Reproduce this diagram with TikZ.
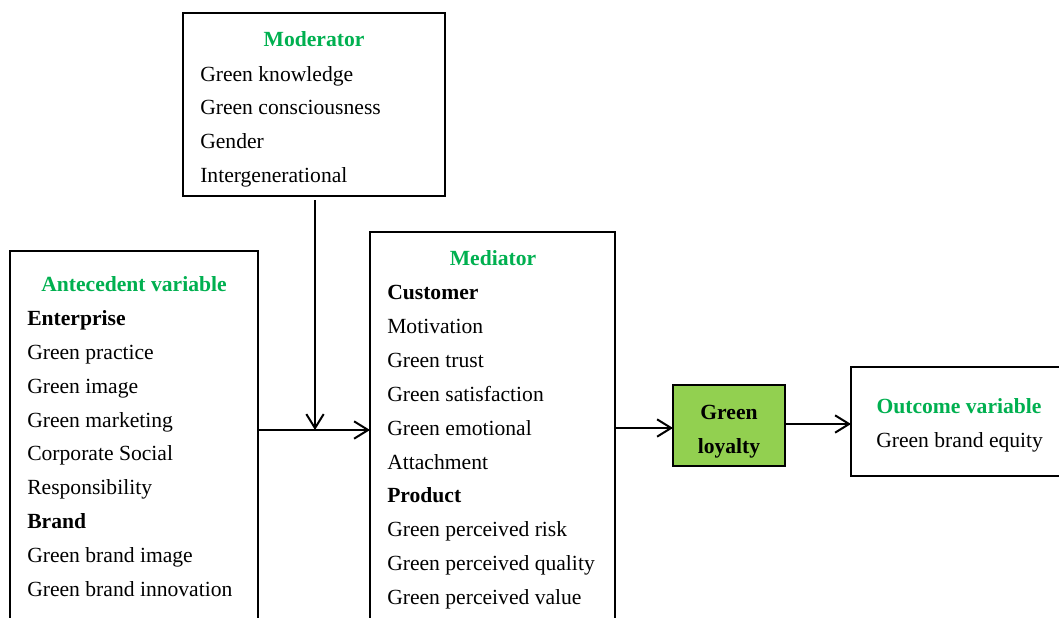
\documentclass[tikz,border=0pt]{standalone}
\usepackage{fontspec}
\setmainfont{Liberation Serif}
\usetikzlibrary{arrows.meta,fit}
\definecolor{titlegreen}{HTML}{00B050}
\definecolor{boxgreen}{HTML}{92D050}
\begin{document}
\begin{tikzpicture}[x=0.75pt,y=-0.75pt,
 box/.style={draw, line width=1.5pt, inner sep=0pt, outer sep=0pt},
 txt/.style={anchor=base west, inner sep=0pt, font=\fontsize{16.2}{20}\selectfont},
 hd/.style={anchor=base west, inner sep=0pt, font=\fontsize{16.2}{20}\selectfont\bfseries},
 ttl/.style={anchor=base, inner sep=0pt, font=\fontsize{16.2}{20}\selectfont\bfseries, text=titlegreen},
 ctr/.style={anchor=base, inner sep=0pt, font=\fontsize{16.2}{20}\selectfont\bfseries},
 arr/.style={line width=1.5pt, -{Straight Barb[length=10.5pt,width=13pt,line width=1.5pt]}}]
\useasboundingbox (0,0) rectangle (1059,617);
\fill[white] (0,0) rectangle (1059,617);
% boxes
\node[box, fit={(183,13) (445,196)}] (mod) {};
\node[box, fit={(10,251) (258,680)}] (ante) {};
\node[box, fit={(370,232) (615,680)}] (med) {};
\node[box, fill=boxgreen, fit={(673,385) (785,466)}] (loy) {};
\node[box, fit={(851,367) (1090,476)}] (out) {};
% moderator text
\node[ttl] (modt) at (314,47) {Moderator};
\node[txt] (m1) at (200,81) {Green knowledge};
\node[txt] (m2) at (200,114) {Green consciousness};
\node[txt] (m3) at (200,148) {Gender};
\node[txt] (m4) at (200,182) {Intergenerational};
% antecedent text
\node[ttl] (antt) at (134,291) {Antecedent variable};
\node[hd] (a1) at (27,325) {Enterprise};
\node[txt] (a2) at (27,359) {Green practice};
\node[txt] (a3) at (27,393) {Green image};
\node[txt] (a4) at (27,427) {Green marketing};
\node[txt] (a5) at (27,460) {Corporate Social};
\node[txt] (a6) at (27,494) {Responsibility};
\node[hd] (a7) at (27,528) {Brand};
\node[txt] (a8) at (27,562) {Green brand image};
\node[txt] (a9) at (27,596) {Green brand innovation};
% mediator text
\node[ttl] (medt) at (493,265) {Mediator};
\node[hd] (d1) at (387,299) {Customer};
\node[txt] (d2) at (387,333) {Motivation};
\node[txt] (d3) at (387,367) {Green trust};
\node[txt] (d4) at (387,401) {Green satisfaction};
\node[txt] (d5) at (387,435) {Green emotional};
\node[txt] (d6) at (387,469) {Attachment};
\node[hd] (d7) at (387,502) {Product};
\node[txt] (d8) at (387,536) {Green perceived risk};
\node[txt] (d9) at (387,570) {Green perceived quality};
\node[txt] (d10) at (387,604) {Green perceived value};
% loyalty text
\node[ctr] (l1) at (729,419) {Green};
\node[ctr] (l2) at (729,453) {loyalty};
% outcome text
\node[ttl] (outt) at (959,413) {Outcome variable};
\node[txt] (o1) at (876,447) {Green brand equity};
% connectors
\coordinate (j) at (315,430);
\coordinate (ml) at (0,428);
\coordinate (lo) at (0,424);
\draw[arr] (ante.east |- j) -- (med.west |- j);
\draw[arr] (mod.south -| j) ++(0,4) -- (j);
\draw[arr] (med.east |- ml) -- (loy.west |- ml);
\draw[arr] (loy.east |- lo) -- (out.west |- lo);
\end{tikzpicture}
\end{document}
